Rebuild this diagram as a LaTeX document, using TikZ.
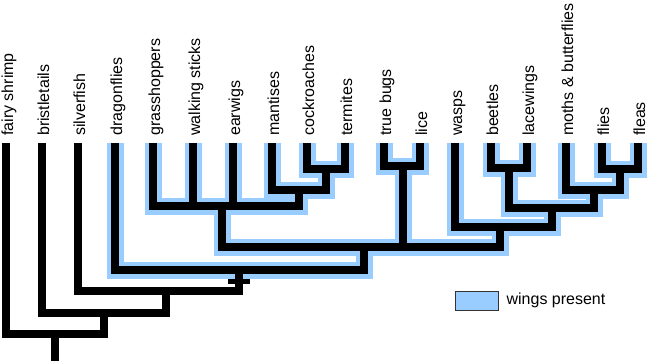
\documentclass[tikz,border=0pt]{standalone}
\usepackage{fontspec}
\setmainfont{Liberation Sans}
\usepackage{tikz}
\usetikzlibrary {
  positioning,
}
\definecolor{wingblue}{RGB}{153,204,255}
\tikzset{
  taxon/.style = {
    rotate = 90,
    anchor = west,
    inner sep = 0pt,
    inner xsep = 7pt,
    text height = 14pt,
    text depth = 0pt,
    font = \fontsize{16}{19}\selectfont
  },
  branch/.style = {
    line width = 7.5pt,
    draw = black
  },
  wing/.style = {
    line width = 17pt,
    draw = wingblue
  },
  bar/.style = {
    line width = 5pt
  },
  key/.style = {
    draw = black!80,
    fill = wingblue,
    line width = 0.8pt,
    minimum width = 43pt,
    minimum height = 19pt,
    inner sep = 0pt
  },
}
% edges of the winged clade, drawn once in blue and once in black
\newcommand{\wingedges}{
  (dragon.west) |- (ptery) (neo) |- (ptery)
  (poly) |- (neo) (para) |- (neo) (holo) |- (neo)
  (grass.west) |- (poly) (sticks.west) |- (poly) (earwig.west) |- (poly) (dicty) |- (poly)
  (mantis.west) |- (dicty) (ct) |- (dicty)
  (roach.west) |- (ct) (termite.west) |- (ct)
  (bugs.west) |- (para) (lice.west) |- (para)
  (wasp.west) |- (holo) (blmff) |- (holo)
  (bl) |- (blmff) (mff) |- (blmff)
  (beetle.west) |- (bl) (lace.west) |- (bl)
  (moth.west) |- (mff) (ff) |- (mff)
  (fly.west) |- (ff) (flea.west) |- (ff)
}

\begin{document}
\begin{tikzpicture}[x = 1pt, y = -1pt]
  \useasboundingbox (0,0) rectangle (650,361);

  % taxa
  \node[taxon] (shrimp) at (6,143) {fairy shrimp};
  \node[taxon] (bristle) at (42,143) {bristletails};
  \node[taxon] (silver) at (78,143) {silverfish};
  \node[taxon] (dragon) at (115,143) {dragonflies};
  \node[taxon] (grass) at (153,143) {grasshoppers};
  \node[taxon] (sticks) at (193,143) {walking sticks};
  \node[taxon] (earwig) at (233,143) {earwigs};
  \node[taxon] (mantis) at (272,143) {mantises};
  \node[taxon] (roach) at (307,143) {cockroaches};
  \node[taxon] (termite) at (345,143) {termites};
  \node[taxon] (bugs) at (384,143) {true bugs};
  \node[taxon] (lice) at (420,143) {lice};
  \node[taxon] (wasp) at (455,143) {wasps};
  \node[taxon] (beetle) at (491,143) {beetles};
  \node[taxon] (lace) at (527,143) {lacewings};
  \node[taxon] (moth) at (566,143) {moths \& butterflies};
  \node[taxon] (fly) at (602,143) {flies};
  \node[taxon] (flea) at (638,143) {fleas};

  % branching points
  \coordinate (ct) at (326,169);
  \coordinate (dicty) at (299,190);
  \coordinate (poly) at (222,206);
  \coordinate (para) at (403,166);
  \coordinate (ff) at (620,169);
  \coordinate (mff) at (594,190);
  \coordinate (bl) at (509,168);
  \coordinate (blmff) at (552,208);
  \coordinate (holo) at (500,227);
  \coordinate (neo) at (364,247);
  \coordinate (ptery) at (239,270);
  \coordinate (dicond) at (166,291);
  \coordinate (insect) at (104,313);
  \coordinate (root) at (55,334);
  \coordinate (base) at (55,361);
  \coordinate (wingmark) at (239,281);

  \draw[wing] \wingedges;
  \draw[branch] \wingedges;
  \draw[branch] (shrimp.west) |- (root) (insect) |- (root)
    (bristle.west) |- (insect) (dicond) |- (insect)
    (silver.west) |- (dicond) (ptery) |- (dicond)
    (root) -- (base);
  \draw[bar] ([xshift = -11pt]wingmark) -- ([xshift = 11pt]wingmark);

  % legend
  \node[key] (key) at (476.5,300.5) {};
  \node[right = 8pt of key, inner sep = 0pt, font = \fontsize{16}{19}\selectfont] (keytext) {wings present};
\end{tikzpicture}
\end{document}
